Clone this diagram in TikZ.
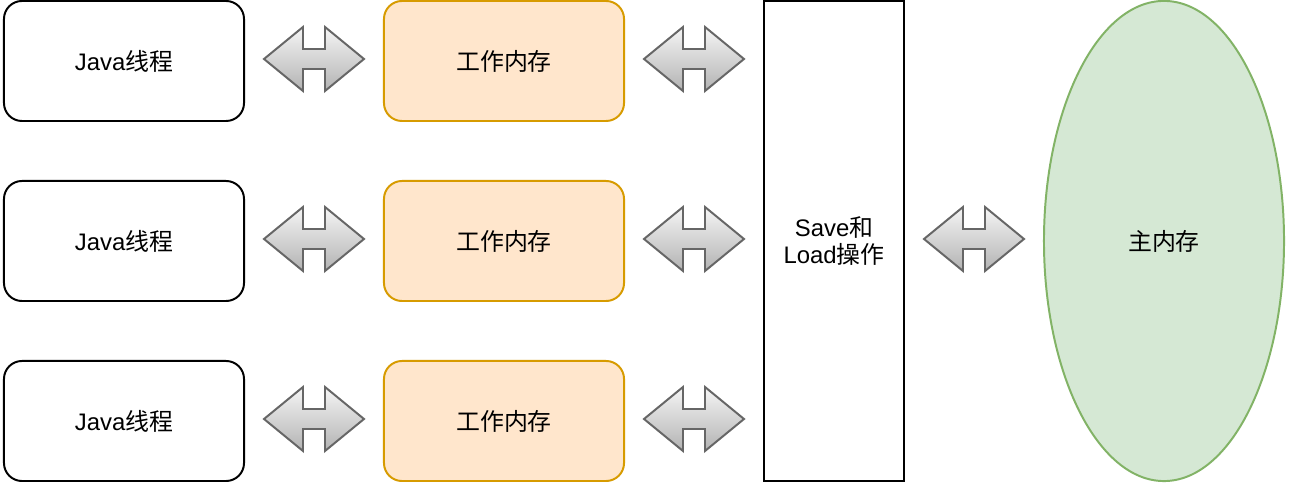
\documentclass[tikz,border=0pt]{standalone}
\usepackage{fontspec}
\setmainfont{Liberation Sans}
\newfontfamily\cjk{Noto Sans CJK SC}
\usetikzlibrary{shapes.geometric}
\definecolor{workfill}{HTML}{FFE6CC}
\definecolor{workdraw}{HTML}{D79B00}
\definecolor{mainfill}{HTML}{D5E8D4}
\definecolor{maindraw}{HTML}{82B366}
\definecolor{arrtop}{HTML}{F5F5F5}
\definecolor{arrbot}{HTML}{B3B3B3}
\definecolor{arrdraw}{HTML}{666666}
\tikzset{
  lbl/.style={font=\fontsize{17}{19.5}\selectfont, text=black, align=center},
  threadbox/.style={lbl, draw=black, fill=white, line width=1.4pt, rounded corners=0.45cm,
    minimum width=6cm, minimum height=3cm, inner sep=0pt},
  workbox/.style={threadbox, draw=workdraw, fill=workfill},
  opbox/.style={lbl, draw=black, fill=white, line width=1.4pt,
    minimum width=3.5cm, minimum height=12cm, inner sep=0pt},
  mainmem/.style={lbl, ellipse, draw=maindraw, fill=mainfill, line width=1.4pt,
    minimum width=6cm, minimum height=12cm, inner sep=0pt},
  dblarr/.style={top color=arrtop, bottom color=arrbot, draw=arrdraw, line width=1.4pt, line join=miter}
}
\newcommand\dblarrow[2]{%
  \shade[dblarr, shift={(#1,#2)}]
    (-50,0) -- (-11,32) -- (-11,10) -- (11,10) -- (11,32) -- (50,0)
    -- (11,-32) -- (11,-10) -- (-11,-10) -- (-11,-32) -- cycle;}
\begin{document}
\begin{tikzpicture}[x=0.025cm, y=0.025cm]
\useasboundingbox[fill=white] (0,0) rectangle (1290,486);
% threads
\node[threadbox] (t1) at (124,425) {Java{\cjk 线程}};
\node[threadbox] (t2) at (124,245) {Java{\cjk 线程}};
\node[threadbox] (t3) at (124,65)  {Java{\cjk 线程}};
% working memory
\node[workbox] (w1) at (504,425) {\cjk 工作内存};
\node[workbox] (w2) at (504,245) {\cjk 工作内存};
\node[workbox] (w3) at (504,65)  {\cjk 工作内存};
% save/load
\node[opbox] (op) at (834,245) {Save{\cjk 和}\\Load{\cjk 操作}};
% main memory
\node[mainmem] (mm) at (1164,245) {\cjk 主内存};
% double arrows
\dblarrow{314}{427}
\dblarrow{314}{247}
\dblarrow{314}{67}
\dblarrow{694}{427}
\dblarrow{694}{247}
\dblarrow{694}{67}
\dblarrow{974}{247}
\end{tikzpicture}
\end{document}
